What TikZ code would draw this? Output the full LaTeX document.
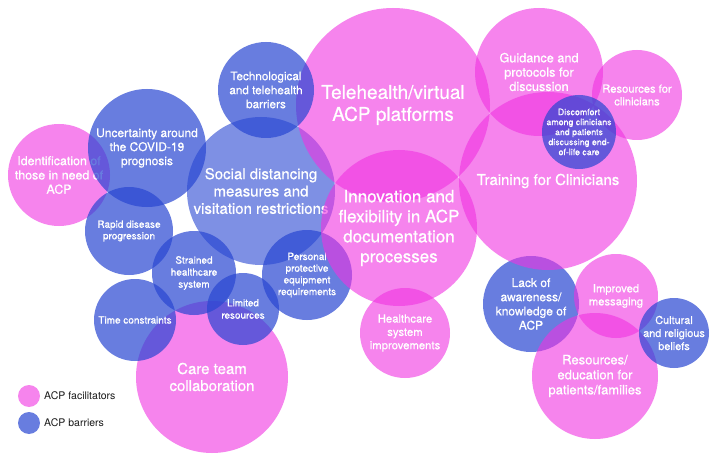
\documentclass[tikz,border=0pt]{standalone}
\usepackage{fontspec}
\setmainfont{TeX Gyre Heros}[BoldFont={TeX Gyre Heros},BoldFeatures={FakeBold=0.6}]
\definecolor{pinkbase}{RGB}{240,50,225}
\definecolor{bluebase}{RGB}{40,70,210}
\definecolor{legtext}{RGB}{25,25,25}
\tikzset{
  bub/.style={circle, draw=none, inner sep=0pt, outer sep=0pt},
  pinkb/.style={bub, fill=pinkbase, fill opacity=0.6},
  blueb/.style={bub, fill=bluebase, fill opacity=0.7},
  blueL/.style={bub, fill=bluebase, fill opacity=0.6},
  btext/.style={text=white, align=center, inner sep=0pt},
  legtxt/.style={text=legtext, anchor=west, inner sep=0pt, font=\fontsize{10.5}{12}\selectfont}
}
\newcommand{\Bubble}[8]{%
  \node[#2, minimum size=#5*2] (#1) at (#3,#4) {};
  \node[btext, font=\fontsize{#6}{#7}\selectfont\bfseries] (#1-t) at (#1.center) {#8};
}
\begin{document}
\begin{tikzpicture}[x=1pt,y=-1pt]
\useasboundingbox (0,0) rectangle (716,460);
\fill[white] (0,0) rectangle (716,460);
\Bubble{soc}{blueL}{261}{191}{74}{15}{17.3}{Social distancing\\measures and\\visitation restrictions}
\Bubble{ident}{pinkb}{59}{175}{51}{12.4}{14.3}{Identification of\\those in need of\\ACP}
\Bubble{unc}{blueb}{147}{148}{59}{12}{14}{Uncertainty around\\the COVID-19\\prognosis}
\Bubble{lack}{blueb}{531}{304}{48}{12}{14.2}{Lack of\\awareness/\\knowledge of\\ACP}
\Bubble{ppe}{blueb}{307}{275}{45}{10}{11.7}{Personal\\protective\\equipment\\requirements}
\Bubble{tele}{pinkb}{393}{105}{97}{19}{22}{Telehealth/virtual\\ACP platforms}
\Bubble{innov}{pinkb}{399}{228}{78}{17}{20}{Innovation and\\flexibility in ACP\\documentation\\processes}
\Bubble{guid}{pinkb}{539}{72}{64}{12.7}{14.3}{Guidance and\\protocols for\\discussion}
\Bubble{train}{pinkb}{548}{181}{89}{15}{17}{Training for Clinicians}
\Bubble{rescl}{pinkb}{637}{95}{45}{11.2}{12.7}{Resources for\\clinicians}
\Bubble{hsi}{pinkb}{405}{333}{45}{11.3}{13.3}{Healthcare\\system\\improvements}
\Bubble{impm}{pinkb}{616}{296}{42}{11.2}{13}{Improved\\messaging}
\Bubble{resed}{pinkb}{595}{376}{63}{13}{15}{Resources/\\education for\\patients/families}
\Bubble{care}{pinkb}{212}{377}{76}{15}{17}{Care team\\collaboration}
\Bubble{tech}{blueb}{266}{90}{48}{11.7}{14}{Technological\\and telehealth\\barriers}
\Bubble{rapid}{blueb}{129}{231}{44}{10}{11.5}{Rapid disease\\progression}
\Bubble{strain}{blueb}{194}{273}{42}{10}{12}{Strained\\healthcare\\system}
\Bubble{time}{blueb}{135}{320}{41}{10}{12}{Time constraints}
\Bubble{limit}{blueb}{243}{309}{36}{9.9}{12.3}{Limited\\resources}
\Bubble{disc}{blueb}{579}{132}{37}{8.8}{10}{Discomfort\\among clinicians\\and patients\\discussing end-\\of-life care}
\Bubble{cult}{blueb}{674}{333}{35}{10.9}{13}{Cultural\\and religious\\beliefs}
% legend
\node[pinkb, minimum size=22] (legf) at (29,396) {};
\node[legtxt] (legf-t) at (44,396) {ACP facilitators};
\node[blueb, minimum size=22] (legb) at (29,423) {};
\node[legtxt] (legb-t) at (44,423) {ACP barriers};
\end{tikzpicture}
\end{document}
